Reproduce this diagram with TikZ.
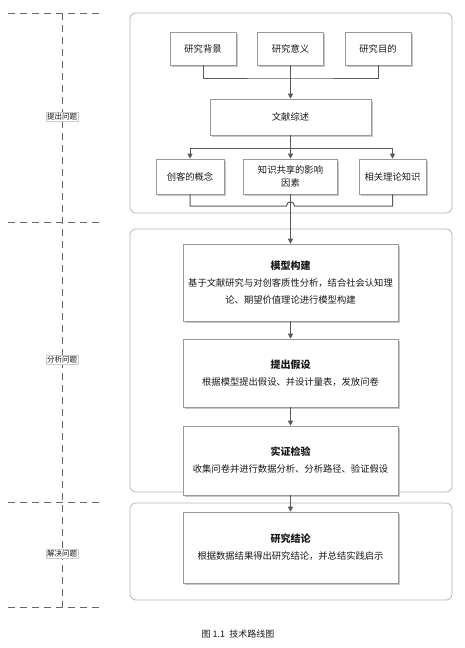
\documentclass[tikz,border=0pt]{standalone}
\usepackage{fontspec}
\setmainfont{Noto Sans CJK SC}
\usetikzlibrary{arrows.meta,shadows}
\begin{document}
\begin{tikzpicture}[x=1pt,y=-1pt,
 conn/.style={draw=black!65, line width=1pt},
 arr/.style={conn,-{Triangle[width=5pt,length=5pt]}},
 stepbox/.style={draw=black!40, fill=white, line width=0.6pt,
   drop shadow={shadow xshift=1.5pt, shadow yshift=-1.5pt, fill=black!22, opacity=1},
   inner sep=0pt, font=\fontsize{9.3}{17}\selectfont, text=black!90, align=center},
 group/.style={draw=black!30, rounded corners=6pt, line width=0.7pt},
 divider/.style={draw=black!60, dash pattern=on 7pt off 5pt, line width=0.9pt},
 phase/.style={draw=black!20, fill=white, inner sep=1pt, font=\fontsize{7.5}{9}\selectfont, text=black!90}
]
\useasboundingbox (0,0) rectangle (465,648);

% left phase dividers
\coordinate (d1l) at (8,13);   \coordinate (d1r) at (103,13);
\coordinate (d2l) at (8,222);  \coordinate (d2r) at (103,222);
\coordinate (d3l) at (8,502);  \coordinate (d3r) at (103,502);
\coordinate (d4l) at (8,607);  \coordinate (d4r) at (103,607);
\coordinate (vt) at (62,13);   \coordinate (vb) at (62,607);
\draw[divider] (d1l) -- (d1r);
\draw[divider] (d2l) -- (d2r);
\draw[divider] (d3l) -- (d3r);
\draw[divider] (d4l) -- (d4r);
\draw[divider] (vt) -- (vb);
\node[phase] (p1) at (62,117) {提出问题};
\node[phase] (p2) at (62,360) {分析问题};
\node[phase] (p3) at (62,554) {解决问题};

% group frames
\draw[group] (130,13) rectangle (452,213);
\draw[group] (130,229) rectangle (452,492);
\draw[group] (130,503) rectangle (452,600);

% first stage
\node[stepbox, minimum width=66pt, minimum height=33pt] (bg) at (203,48.5) {研究背景};
\node[stepbox, minimum width=66pt, minimum height=33pt] (yy) at (290.5,48.5) {研究意义};
\node[stepbox, minimum width=66pt, minimum height=33pt] (md) at (378,48.5) {研究目的};
\node[stepbox, minimum width=161pt, minimum height=36pt] (lit) at (290.5,117) {文献综述};
\node[stepbox, minimum width=68pt, minimum height=35pt] (cc) at (190,176.5) {创客的概念};
\node[stepbox, minimum width=94pt, minimum height=35pt, font=\fontsize{9.3}{13}\selectfont] (zs) at (290.5,176.5) {知识共享的影响\\因素};
\node[stepbox, minimum width=67pt, minimum height=35pt] (xg) at (392.5,176.5) {相关理论知识};

% second stage
\node[stepbox, minimum width=215pt, minimum height=77pt] (mx) at (290.5,282.5)
 {{\bfseries\fontsize{10}{12}\selectfont 模型构建}\\基于文献研究与对创客质性分析，结合社会认知理\\论、期望价值理论进行模型构建};
\node[stepbox, minimum width=215pt, minimum height=68pt] (js) at (290.5,373)
 {{\bfseries\fontsize{10}{12}\selectfont 提出假设}\\根据模型提出假设、并设计量表，发放问卷};
\node[stepbox, minimum width=215pt, minimum height=69pt] (sz) at (290.5,460.5)
 {{\bfseries\fontsize{10}{12}\selectfont 实证检验}\\收集问卷并进行数据分析、分析路径、验证假设};

% third stage
\node[stepbox, minimum width=215pt, minimum height=71pt] (jl) at (290.5,547.5)
 {{\bfseries\fontsize{10}{12}\selectfont 研究结论}\\根据数据结果得出研究结论，并总结实践启示};

% connectors
\coordinate (j1) at (290.5,78);
\draw[conn] (bg.south) |- (j1) -| (md.south);
\draw[arr] (yy.south) -- (lit.north);

\coordinate (j2) at (290.5,148);
\draw[conn] (lit.south) -- (j2);
\draw[arr] (j2) -| (cc.north);
\draw[arr] (j2) -| (xg.north);
\draw[arr] (j2) -- (zs.north);

\coordinate (jmpL) at (286.5,206);
\coordinate (jmpR) at (294.5,206);
\draw[conn] (cc.south) |- (jmpL) .. controls +(0,-5.5) and +(0,-5.5) .. (jmpR) -| (xg.south);
\draw[arr] (zs.south) -- (mx.north);
\draw[arr] (mx.south) -- (js.north);
\draw[arr] (js.south) -- (sz.north);
\draw[arr] (sz.south) -- (jl.north);

% caption
\node[font=\fontsize{9}{11}\selectfont, text=black!90] (cap) at (238,634) {图 1.1\ \ 技术路线图};
\end{tikzpicture}
\end{document}
